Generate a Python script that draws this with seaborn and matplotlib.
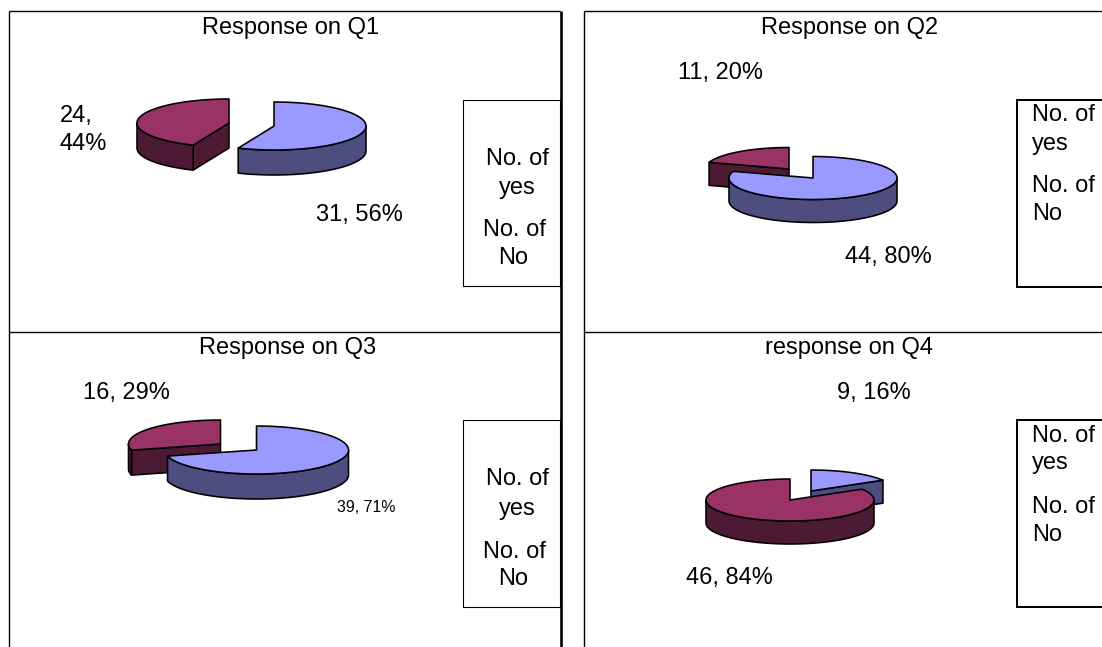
import numpy as np
import matplotlib
matplotlib.use("Agg")
import matplotlib.pyplot as plt
from matplotlib.patches import Polygon, Rectangle
import seaborn as sns

# Survey responses per question
titles = ["Response on Q1", "Response on Q2", "Response on Q3", "response on Q4"]
yes_counts = [31, 44, 39, 9]
no_counts = [24, 11, 16, 46]
legend_labels = ["No. of\nyes", "No. of\nNo"]

# Two-tone slice colours: top face and shaded wall
yes_colors = sns.color_palette(["#9999FF", "#4D4D80"])
no_colors = sns.color_palette(["#993366", "#4D1A33"])

# Panel geometry in pixels
panels = [
    dict(yes_c=(274, 126), no_c=(229, 123), rx=92, ry=24, depth=25,
         title=(291, 28), no_lab=(60, 130, "left"), yes_lab=(316, 215, "left"),
         no_wrap=True, box=(463, 99.5, 97, 186.5), thick=1.1,
         leg_pos=[((517, 159), (517, 188)), ((514, 230), (513, 258))], leg_align="center",
         lab_size=(17, 17)),
    dict(yes_c=(813, 178), no_c=(789, 169), rx=84, ry=21.5, depth=23,
         title=(850, 28), no_lab=(677.5, 73, "left"), yes_lab=(845, 257, "left"),
         no_wrap=False, box=(1017, 99.5, 90, 187), thick=2.0,
         leg_pos=[((1032, 115), (1032, 144)), ((1032, 186), (1032, 214))], leg_align="left",
         lab_size=(17, 17)),
    dict(yes_c=(256.5, 450), no_c=(220.5, 444), rx=92, ry=24, depth=25,
         title=(287.5, 348), no_lab=(83, 393, "left"), yes_lab=(337, 507, "left"),
         no_wrap=False, box=(463, 420, 97, 187), thick=1.1,
         leg_pos=[((517, 479), (517, 509)), ((514, 552), (513, 579))], leg_align="center",
         lab_size=(11.4, 17)),
    dict(yes_c=(811, 491), no_c=(790, 500), rx=84, ry=21, depth=23,
         title=(849, 348), no_lab=(685.5, 578, "left"), yes_lab=(837, 393, "left"),
         no_wrap=False, box=(1017, 420, 90, 187), thick=2.0,
         leg_pos=[((1032, 436), (1032, 463)), ((1032, 507), (1032, 535))], leg_align="left",
         lab_size=(17, 17)),
]

sns.set_theme(style="white")
plt.rcParams["font.family"] = ["Liberation Sans", "DejaVu Sans"]

fig = plt.figure(figsize=(11.02, 6.47), dpi=100, facecolor="white")
ax = fig.add_axes([0, 0, 1, 1])
ax.set_xlim(0, 1102)
ax.set_ylim(647, 0)
ax.axis("off")

EDGE = dict(edgecolor="black", linewidth=1.15, joinstyle="round")


def rim(center, rx, ry, start, stop, drop=0):
    """Points on the pie ellipse, angles clockwise from twelve o'clock."""
    theta = np.radians(np.linspace(start, stop, max(int(abs(stop - start)) + 2, 2)))
    return np.column_stack([center[0] + rx * np.sin(theta),
                            center[1] - ry * np.cos(theta) + drop])


def draw_slice(center, start, stop, rx, ry, depth, colors, z):
    face, wall = colors
    # flat cut faces that turn toward the viewer
    for angle, visible in ((start, np.sin(np.radians(start)) < -1e-6),
                           (stop, np.sin(np.radians(stop)) > 1e-6)):
        if visible:
            tip = rim(center, rx, ry, angle, angle)[0]
            quad = [center, tip, (tip[0], tip[1] + depth), (center[0], center[1] + depth)]
            ax.add_patch(Polygon(quad, closed=True, facecolor=wall, zorder=z, **EDGE))
    # curved outer wall on the front half of the rim
    low, high = max(start, 90), min(stop, 270)
    if low < high:
        top_edge = rim(center, rx, ry, low, high)
        bottom_edge = rim(center, rx, ry, high, low, drop=depth)
        ax.add_patch(Polygon(np.vstack([top_edge, bottom_edge]), closed=True,
                             facecolor=wall, zorder=z + 0.1, **EDGE))
    # top face
    outline = np.vstack([[center], rim(center, rx, ry, start, stop)])
    ax.add_patch(Polygon(outline, closed=True, facecolor=face, zorder=z + 0.2, **EDGE))


def slice_label(count, total, wrap=False):
    pct = round(100 * count / total)
    return f"{count},\n{pct}%" if wrap else f"{count}, {pct}%"


# Table rules separating the four charts
RULE = dict(color="black", solid_capstyle="butt", zorder=1)
ax.plot([9.3, 9.3], [11.3, 647], lw=1.0, **RULE)
ax.plot([9.3, 560], [11.3, 11.3], lw=1.0, **RULE)
ax.plot([9.3, 560], [332.3, 332.3], lw=1.0, **RULE)
ax.plot([583.5, 583.5], [11.3, 647], lw=1.0, **RULE)
ax.plot([583.5, 1102], [11.3, 11.3], lw=1.0, **RULE)
ax.plot([583.5, 1102], [332.3, 332.3], lw=1.0, **RULE)
ax.plot([561.4, 561.4], [11.3, 647], lw=1.9, **RULE)

for title, yes, no, p in zip(titles, yes_counts, no_counts, panels):
    total = yes + no
    split = 360 * yes / total
    yes_first = p["yes_c"][1] < p["no_c"][1]
    yes_z, no_z = (3, 4) if yes_first else (4, 3)
    draw_slice(p["yes_c"], 0, split, p["rx"], p["ry"], p["depth"], yes_colors, yes_z)
    draw_slice(p["no_c"], split, 360, p["rx"], p["ry"], p["depth"], no_colors, no_z)

    ax.text(*p["title"], title, fontsize=17, ha="center", va="center", color="black")

    x, y, align = p["yes_lab"]
    ax.text(x, y, slice_label(yes, total), fontsize=p["lab_size"][0], ha=align, va="center", color="black")
    x, y, align = p["no_lab"]
    ax.text(x, y, slice_label(no, total, p["no_wrap"]), fontsize=p["lab_size"][1], ha=align,
            va="center", color="black", linespacing=1.3)

    bx, by, bw, bh = p["box"]
    ax.add_patch(Rectangle((bx, by), bw, bh, facecolor="white", edgecolor="black",
                           linewidth=p["thick"] * 0.72, zorder=2, clip_on=True))
    for entry, (pos1, pos2) in zip(legend_labels, p["leg_pos"]):
        first, second = entry.split("\n")
        ax.text(*pos1, first, fontsize=17, ha=p["leg_align"], va="center", color="black", zorder=5)
        ax.text(*pos2, second, fontsize=17, ha=p["leg_align"], va="center", color="black", zorder=5)

fig.savefig("out.png", dpi=100, facecolor="white")
